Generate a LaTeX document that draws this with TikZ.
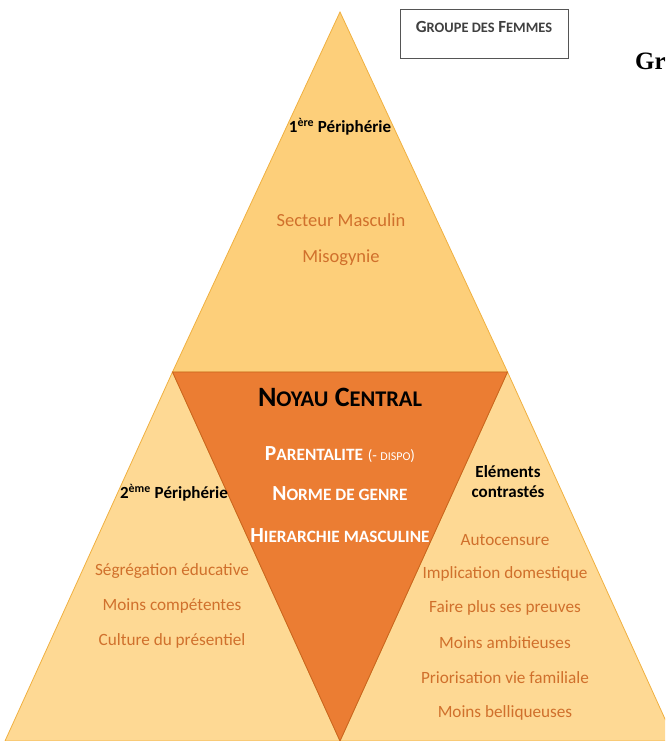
\documentclass[tikz,border=0pt]{standalone}
\usepackage{fontspec}
\setmainfont{Carlito}
\newfontfamily\grfont{Liberation Serif}
\usepackage{relsize}
\definecolor{toptri}{HTML}{FDCF7A}
\definecolor{sidetri}{HTML}{FED994}
\definecolor{triedge}{HTML}{F0B040}
\definecolor{noyau}{HTML}{EB7D33}
\definecolor{noyauedge}{HTML}{C8641F}
\definecolor{itemcol}{HTML}{D0702C}
\definecolor{boxgray}{HTML}{555555}
\newcommand{\fsc}[2]{#1\textscale{.8}{#2}}

\begin{document}
\begin{tikzpicture}[x=1pt,y=-1pt]

        \useasboundingbox (0,0) rectangle (665,741);
        \clip (0,0) rectangle (665,741);

        \coordinate (apex) at (340,12);
        \coordinate (bl)   at (5,741);
        \coordinate (br)   at (675,741);
        \coordinate (ml)   at (172.5,372);
        \coordinate (mr)   at (507.5,372);
        \coordinate (mb)   at (340,741);

        \begin{scope}[draw=triedge, line width=0.8pt]
          \filldraw[fill=toptri]  (apex) -- (ml) -- (mr) -- cycle;
          \filldraw[fill=sidetri] (ml) -- (bl) -- (mb) -- cycle;
          \filldraw[fill=sidetri] (mr) -- (mb) -- (br) -- cycle;
          \filldraw[fill=noyau, draw=noyauedge] (ml) -- (mr) -- (mb) -- cycle;
        \end{scope}

        % titres
        \begin{scope}[every node/.style={font=\bfseries\fontsize{17}{20}\selectfont, align=center}]
          \node (p1) at (340,127) {1\textsuperscript{ère} Périphérie};
          \node (p2) at (174,493) {2\textsuperscript{ème} Périphérie};
          \node (ec) at (508,482) {Eléments\\contrastés};
        \end{scope}

        % items
        \begin{scope}[every node/.style={font=\fontsize{17.2}{20}\selectfont, text=itemcol}]
          \node[font=\fontsize{18.5}{20}\selectfont] (t1) at (341,220) {Secteur Masculin};
          \node[font=\fontsize{18.5}{20}\selectfont] (t2) at (341,258) {Misogynie};
          \node (l1) at (172,571) {Ségrégation éducative};
          \node (l2) at (172,606) {Moins compétentes};
          \node (l3) at (172,641) {Culture du présentiel};
          \node (r1) at (505,540) {Autocensure};
          \node (r2) at (505,574) {Implication domestique};
          \node (r3) at (505,608) {Faire plus ses preuves};
          \node (r4) at (505,643) {Moins ambitieuses};
          \node (r5) at (505,678) {Priorisation vie familiale};
          \node (r6) at (505,713) {Moins belliqueuses};
        \end{scope}

        % noyau
        \node[font=\bfseries\fontsize{28}{30}\selectfont] (nc) at (340,397)
          {\fsc{N}{OYAU} \fsc{C}{ENTRAL}};
        \begin{scope}[every node/.style={font=\bfseries\fontsize{21.5}{24}\selectfont, text=white}]
          \node (c1) at (340,455) {\fsc{P}{ARENTALITE} {\mdseries\fontsize{15}{17}\selectfont (-~\textscale{.8}{DISPO})}};
          \node (c2) at (340,494) {\fsc{N}{ORME DE GENRE}};
          \node (c3) at (340,536) {\fsc{H}{IERARCHIE MASCULINE}};
        \end{scope}

        % groupe
        \node[draw=boxgray, line width=0.7pt, fill=white, minimum width=168pt, minimum height=49pt] (gbox) at (484,33.5) {};
        \node[font=\bfseries\fontsize{17}{19}\selectfont, text=black!75] (gtxt) at ([yshift=6.5pt]gbox.center) {\fsc{G}{ROUPE DES} \fsc{F}{EMMES}};
        \node[font=\grfont\bfseries\fontsize{25}{27}\selectfont, anchor=base west, inner sep=0pt] (gr) at (635,70) {Gr};

      \end{tikzpicture}
\end{document}
